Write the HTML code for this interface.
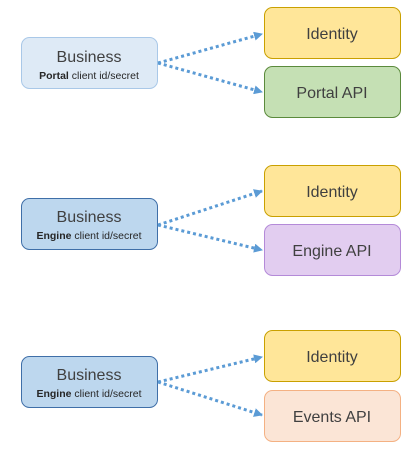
<!DOCTYPE html>
<html><head><meta charset="utf-8"><style>
html,body{margin:0;padding:0;background:#fff;}
svg{display:block;font-family:"Liberation Sans",sans-serif;}
.t{font-size:16px;fill:#404040;text-anchor:middle;}
.s{font-size:10.5px;fill:#262626;text-anchor:middle;}
.a{stroke:#5b9bd5;stroke-width:3;stroke-dasharray:3 3;fill:none;}
</style></head><body>
<svg width="411" height="449" viewBox="0 0 411 449">
<defs><marker id="m" markerWidth="9" markerHeight="9" refX="8" refY="4.5" orient="auto" markerUnits="userSpaceOnUse"><path d="M0,0 L9,4.5 L0,9 z" fill="#5b9bd5"/></marker></defs>
<!-- group 1 -->
<rect x="21.5" y="37.5" width="136" height="51" rx="8" fill="#deeaf6" stroke="#a9c8e8"/>
<text class="t" x="89" y="62">Business</text>
<text class="s" x="89" y="79"><tspan font-weight="bold">Portal</tspan> client id/secret</text>
<rect x="264.5" y="7.5" width="136" height="51" rx="8" fill="#ffe699" stroke="#c9a000"/>
<text class="t" x="332" y="39">Identity</text>
<rect x="264.5" y="66.5" width="136" height="51" rx="8" fill="#c5e0b4" stroke="#5b8a3c"/>
<text class="t" x="332" y="98">Portal API</text>
<line class="a" x1="158" y1="63" x2="262" y2="34" marker-end="url(#m)"/>
<line class="a" x1="158" y1="63" x2="262" y2="92" marker-end="url(#m)"/>
<!-- group 2 -->
<rect x="21.5" y="198.5" width="136" height="51" rx="8" fill="#bdd7ee" stroke="#3f6fa8"/>
<text class="t" x="89" y="222">Business</text>
<text class="s" x="89" y="239"><tspan font-weight="bold">Engine</tspan> client id/secret</text>
<rect x="264.5" y="165.5" width="136" height="51" rx="8" fill="#ffe699" stroke="#c9a000"/>
<text class="t" x="332" y="197">Identity</text>
<rect x="264.5" y="224.5" width="136" height="51" rx="8" fill="#e2cdf0" stroke="#b48ad8"/>
<text class="t" x="332" y="256">Engine API</text>
<line class="a" x1="158" y1="225" x2="262" y2="191" marker-end="url(#m)"/>
<line class="a" x1="158" y1="225" x2="262" y2="250" marker-end="url(#m)"/>
<!-- group 3 -->
<rect x="21.5" y="356.5" width="136" height="51" rx="8" fill="#bdd7ee" stroke="#3f6fa8"/>
<text class="t" x="89" y="380">Business</text>
<text class="s" x="89" y="397"><tspan font-weight="bold">Engine</tspan> client id/secret</text>
<rect x="264.5" y="330.5" width="136" height="51" rx="8" fill="#ffe699" stroke="#c9a000"/>
<text class="t" x="332" y="362">Identity</text>
<rect x="264.5" y="390.5" width="136" height="51" rx="8" fill="#fbe5d6" stroke="#f4b183"/>
<text class="t" x="332" y="422">Events API</text>
<line class="a" x1="158" y1="382" x2="262" y2="357" marker-end="url(#m)"/>
<line class="a" x1="158" y1="382" x2="262" y2="415" marker-end="url(#m)"/>
</svg>
</body></html>
